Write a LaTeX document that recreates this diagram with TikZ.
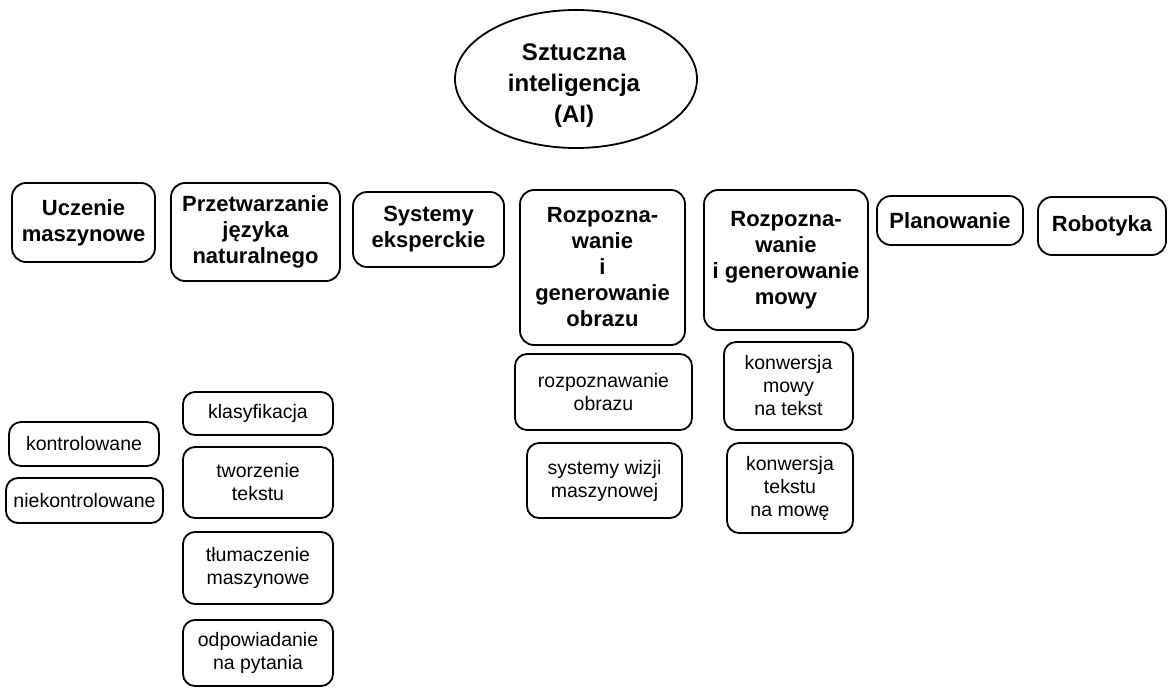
\documentclass[tikz,border=0pt]{standalone}
\usepackage{fontspec}
\setmainfont{Liberation Sans}
\usetikzlibrary{shapes.geometric}
\begin{document}
\begin{tikzpicture}[x = 1pt, y = -1pt,
  glowna/.style = {draw, ellipse, line width = 1.8pt, inner sep = 0pt},
  napis/.style = {align = center, inner sep = 0pt, font = \fontsize{24}{31}\selectfont\bfseries},
  dzial/.style = {draw, rounded corners = 14pt, line width = 1.8pt, inner sep = 2pt, align = center,
    font = \fontsize{22}{26}\selectfont\bfseries},
  poddzial/.style = {draw, rounded corners = 12pt, line width = 1.8pt, inner sep = 2pt, align = center,
    font = \fontsize{19.5}{23}\selectfont}]
\useasboundingbox (0,0) rectangle (1168,688);
\node[glowna, minimum width = 242pt, minimum height = 138pt] at (576,79) (ai) {};
\node[napis] at (574,86) (ainapis) {Sztuczna\\inteligencja\\(AI)};
\node[dzial, minimum width = 143pt, minimum height = 79pt] at (83.5,222.5) (ucz) {Uczenie\\maszynowe};
\node[dzial, minimum width = 169pt, minimum height = 98pt] at (255.5,232) (nlp) {Przetwarzanie\\języka\\naturalnego};
\node[dzial, minimum width = 151pt, minimum height = 75pt] at (428.5,229.5) (eksp) {Systemy\\eksperckie};
\node[dzial, minimum width = 165pt, minimum height = 155pt] at (602.5,267.5) (obraz) {Rozpozna-\\wanie\\i\\generowanie\\obrazu};
\node[dzial, minimum width = 164pt, minimum height = 140pt] at (786,260) (mowa) {Rozpozna-\\wanie\\i generowanie\\mowy};
\node[dzial, minimum width = 146pt, minimum height = 49pt] at (950,220.5) (plan) {Planowanie};
\node[dzial, minimum width = 128pt, minimum height = 58pt] at (1102,226) (robot) {Robotyka};
\node[poddzial, minimum width = 150pt, minimum height = 44pt] at (84,444) (kontr) {kontrolowane};
\node[poddzial, minimum width = 157pt, minimum height = 45pt] at (84.5,500.5) (niekontr) {niekontrolowane};
\node[poddzial, minimum width = 150pt, minimum height = 43pt] at (258,413.5) (klas) {klasyfikacja};
\node[poddzial, minimum width = 150pt, minimum height = 71pt] at (258,482.5) (twor) {tworzenie\\tekstu};
\node[poddzial, minimum width = 150pt, minimum height = 72pt] at (258,568) (tlum) {tłumaczenie\\maszynowe};
\node[poddzial, minimum width = 150pt, minimum height = 66pt] at (258,653) (odp) {odpowiadanie\\na pytania};
\node[poddzial, minimum width = 177pt, minimum height = 76pt] at (603.5,392) (rozobr) {rozpoznawanie\\obrazu};
\node[poddzial, minimum width = 155pt, minimum height = 75pt] at (604.5,480.5) (wizja) {systemy wizji\\maszynowej};
\node[poddzial, minimum width = 129pt, minimum height = 88pt] at (788.5,386) (mowatekst) {konwersja\\mowy\\na tekst};
\node[poddzial, minimum width = 126pt, minimum height = 90pt] at (790,488) (tekstmowa) {konwersja\\tekstu\\na mowę};
\end{tikzpicture}
\end{document}
